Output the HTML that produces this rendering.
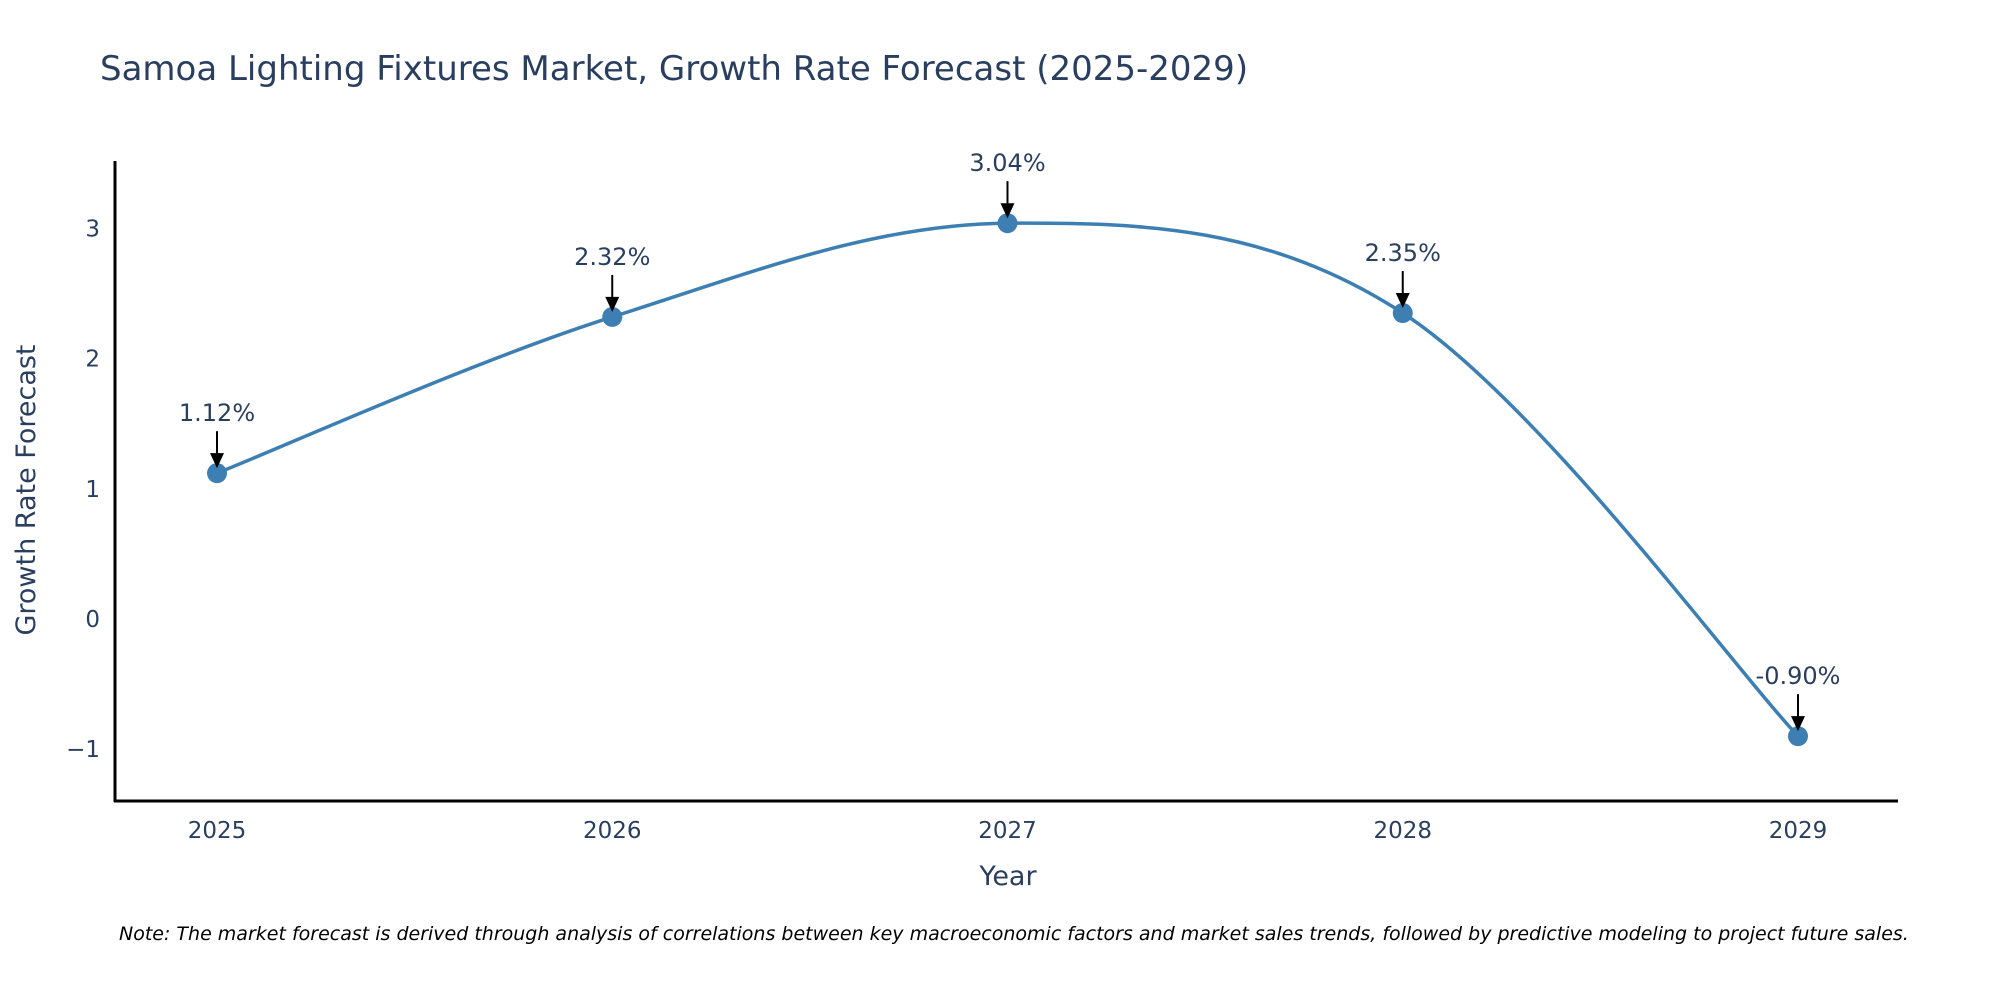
<!DOCTYPE html>
<html><head><meta charset="utf-8"><style>
body{margin:0;background:#fff;width:2000px;height:1000px;overflow:hidden;font-family:"DejaVu Sans","Liberation Sans",sans-serif}
</style></head><body>
<svg width="2000" height="1000" xmlns="http://www.w3.org/2000/svg" font-family="DejaVu Sans, Liberation Sans, sans-serif">
<text x="100" y="80" font-size="34" fill="#2a3f5f">Samoa Lighting Fixtures Market, Growth Rate Forecast (2025-2029)</text>
<g id="plot"></g>
<line x1="115" y1="161" x2="115" y2="802" stroke="#000" stroke-width="3"/>
<line x1="114" y1="801" x2="1898" y2="801" stroke="#000" stroke-width="3"/>
<text x="1008" y="885" font-size="27" fill="#2a3f5f" text-anchor="middle">Year</text>
<text transform="translate(35,490) rotate(-90)" font-size="27" fill="#2a3f5f" text-anchor="middle">Growth Rate Forecast</text>
<text x="119" y="940" font-size="19" font-style="italic" fill="#000">Note: The market forecast is derived through analysis of correlations between key macroeconomic factors and market sales trends, followed by predictive modeling to project future sales.</text>
</svg>
<script>
const years=[2025,2026,2027,2028,2029];
const values=[1.12,2.32,3.04,2.35,-0.90];
const labels=["1.12%","2.32%","3.04%","2.35%","-0.90%"];
const yTicks=[-1,0,1,2,3];
const NS="http://www.w3.org/2000/svg";
const g=document.getElementById('plot');
const xs=y=>217+(y-2025)*395.25;
const ys=v=>619-v*130.2;
function mk(t,a){const e=document.createElementNS(NS,t);for(const k in a)e.setAttribute(k,a[k]);g.appendChild(e);return e;}
yTicks.forEach(t=>{const e=mk('text',{x:100,y:ys(t)+8,'font-size':23,fill:'#2a3f5f','text-anchor':'end'});e.textContent=t<0?'\u2212'+(-t):t;

});
years.forEach(y=>{const e=mk('text',{x:xs(y),y:838,'font-size':23,fill:'#2a3f5f','text-anchor':'middle'});e.textContent=y;

});
const P=years.map((y,i)=>[xs(y),ys(values[i])]);
let d='M'+P[0][0]+','+P[0][1];const s=0.17;
for(let i=0;i<P.length-1;i++){const p0=P[i-1]||P[i],p1=P[i],p2=P[i+1],p3=P[i+2]||P[i+1];
d+=` C${p1[0]+(p2[0]-p0[0])*s},${p1[1]+(p2[1]-p0[1])*s} ${p2[0]-(p3[0]-p1[0])*s},${p2[1]-(p3[1]-p1[1])*s} ${p2[0]},${p2[1]}`;}
const ln=mk('path',{d:d,fill:'none',stroke:'#3d7fb2','stroke-width':3.5});


P.forEach((p,i)=>{const c=mk('circle',{cx:p[0],cy:p[1],r:10,fill:'#3d7fb2'});


const a=mk('line',{x1:p[0],y1:p[1]-42,x2:p[0],y2:p[1]-18,stroke:'#000','stroke-width':2});


const h=mk('polygon',{points:`${p[0]-7},${p[1]-20} ${p[0]+7},${p[1]-20} ${p[0]},${p[1]-5}`,fill:'#000'});


const t=mk('text',{x:p[0],y:p[1]-52,'font-size':24,fill:'#2a3f5f','text-anchor':'middle'});t.textContent=labels[i];

});
</script>
</body></html>
